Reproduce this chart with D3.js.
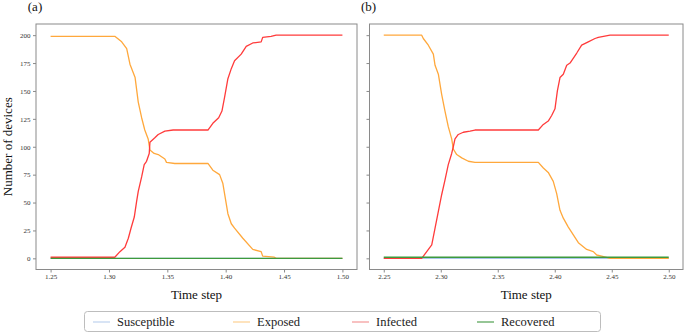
<!DOCTYPE html>
<html><head><meta charset="utf-8">
<script src="https://cdn.jsdelivr.net/npm/d3@7"></script>
<style>body{margin:0;background:#fff}svg{display:block}</style>
</head><body><svg id="c" width="685" height="333"></svg>
<script>
// ---- data ----
const seriesNames = ["Susceptible", "Exposed", "Infected", "Recovered"];
const xTicksA = [1.25, 1.30, 1.35, 1.40, 1.45, 1.50];
const xTicksB = [2.25, 2.30, 2.35, 2.40, 2.45, 2.50];
const yTicks = [0, 25, 50, 75, 100, 125, 150, 175, 200];
const panelLabels = ["(a)", "(b)"];

const susceptibleA = [[1.25,0],[1.50,0]];
const exposedA = [[1.250,199],[1.305,199],[1.3109,194],[1.3152,188],[1.318,174],[1.3224,162],[1.3251,140],[1.328,126],[1.3307,115],[1.3336,107],[1.3351,97],[1.3387,94],[1.3422,93],[1.3479,89],[1.3493,86],[1.3564,85],[1.3848,85],[1.389,79],[1.3948,75],[1.3976,67],[1.4019,40],[1.4048,31],[1.4076,27],[1.4147,18],[1.4232,8],[1.4304,6],[1.4317,2],[1.4417,1],[1.4432,0],[1.50,0]];
const infectedA = [[1.250,1],[1.305,1],[1.3094,6],[1.3137,10],[1.3166,18],[1.3189,27],[1.3217,37],[1.3237,51],[1.3251,60],[1.328,73],[1.3302,84],[1.3322,87],[1.3345,94],[1.3351,104],[1.3393,108],[1.3422,111],[1.3479,114],[1.355,115],[1.3848,115],[1.389,121],[1.394,126],[1.3968,132],[1.399,144],[1.4019,161],[1.4048,170],[1.4076,177],[1.4133,183],[1.4176,190],[1.4232,193],[1.4304,194],[1.4317,198],[1.4389,199],[1.4432,200],[1.50,200]];
const recoveredA = [[1.25,0],[1.50,0]];

const susceptibleB = [[2.25,0],[2.50,0]];
const exposedB = [[2.250,200],[2.2833,200],[2.2847,197],[2.2891,191],[2.2935,183],[2.295,173],[2.2979,165],[2.3008,147],[2.3037,132],[2.3066,118],[2.3096,107],[2.311,98],[2.314,93],[2.3184,90],[2.3242,87],[2.330,86],[2.3856,86],[2.390,81],[2.3943,77],[2.3987,69],[2.4017,58],[2.4046,43],[2.4075,36],[2.4119,28],[2.4207,14],[2.428,8],[2.4338,6],[2.4368,3],[2.4412,2],[2.4485,0],[2.50,0]];
const infectedB = [[2.250,0],[2.2833,0],[2.2877,6],[2.2921,12],[2.295,27],[2.2979,42],[2.3008,57],[2.3037,70],[2.3066,84],[2.3096,94],[2.311,100],[2.3125,107],[2.3154,111],[2.3198,113],[2.3257,114],[2.330,115],[2.3856,115],[2.390,120],[2.3943,123],[2.3973,128],[2.4002,134],[2.4023,150],[2.4046,162],[2.4075,165],[2.4105,173],[2.4134,175],[2.4193,184],[2.4236,191],[2.4294,194],[2.4353,197],[2.4382,198],[2.4485,200],[2.50,200]];
const recoveredB = [[2.25,1],[2.50,1]];

// ---- styles ----
const colors = {Susceptible:"#a9c6ea", Exposed:"#ffa83c", Infected:"#ff3b3b", Recovered:"#3d9a3d"};
const legendColors = {Susceptible:"#c3d6f0", Exposed:"#fdd49a", Infected:"#f4a0a0", Recovered:"#5ea85e"};
const serif = "'Liberation Serif','Times New Roman',serif";

const svg = d3.select("#c");
const yTop = 24, yBottom = 269.5;

const panels = [
  {x0:36, x1:357, xt:xTicksA, label:panelLabels[0], yLabels:true,
   data:{Susceptible:susceptibleA, Exposed:exposedA, Infected:infectedA, Recovered:recoveredA}},
  {x0:369.5, x1:683, xt:xTicksB, label:panelLabels[1], yLabels:false,
   data:{Susceptible:susceptibleB, Exposed:exposedB, Infected:infectedB, Recovered:recoveredB}}
];

const y = d3.scaleLinear().domain([-10, 210]).range([yBottom, yTop]);

panels.forEach(p => {
  const lo = p.xt[0], hi = p.xt[p.xt.length-1], m = (hi-lo)*0.05;
  const x = d3.scaleLinear().domain([lo-m, hi+m]).range([p.x0, p.x1]);
  const g = svg.append("g");
  const line = d3.line().x(d=>x(d[0])).y(d=>y(d[1]));
  seriesNames.forEach(n => {
    g.append("path").datum(p.data[n]).attr("d", line)
      .attr("fill","none").attr("stroke", colors[n]).attr("stroke-width",1.3)
      .attr("stroke-linejoin","round");
  });
  // frame
  g.append("rect").attr("x",p.x0).attr("y",yTop).attr("width",p.x1-p.x0).attr("height",yBottom-yTop)
    .attr("fill","none").attr("stroke","#8a8a8a").attr("stroke-width",1);
  // x axis
  const xa = g.append("g").attr("transform",`translate(0,${yBottom})`)
    .call(d3.axisBottom(x).tickValues(p.xt).tickFormat(d3.format(".2f")).tickSize(3).tickPadding(2));
  xa.select(".domain").remove();
  xa.selectAll("line").attr("stroke","#8a8a8a");
  xa.selectAll("text").attr("font-family",serif).attr("font-size",7).attr("fill","#333");
  // y axis
  const ya = g.append("g").attr("transform",`translate(${p.x0},0)`)
    .call(d3.axisLeft(y).tickValues(yTicks).tickSize(3).tickPadding(2.5)
      .tickFormat(p.yLabels ? d3.format("d") : ""));
  ya.select(".domain").remove();
  ya.selectAll("line").attr("stroke","#8a8a8a");
  ya.selectAll("text").attr("font-family",serif).attr("font-size",7).attr("fill","#333");
  // labels
  g.append("text").attr("x",(p.x0+p.x1)/2).attr("y",299).attr("text-anchor","middle")
    .attr("font-family",serif).attr("font-size",13).attr("fill","#111").text("Time step");
  g.append("text").attr("x",p.x0-1).attr("y",11).attr("text-anchor","middle")
    .attr("font-family",serif).attr("font-size",13).attr("fill","#111").text(p.label);
});

svg.append("text").attr("transform",`translate(12,${(yTop+yBottom)/2}) rotate(-90)`)
  .attr("text-anchor","middle").attr("font-family",serif).attr("font-size",13).attr("fill","#111")
  .text("Number of devices");

// legend
const lg = svg.append("g");
lg.append("rect").attr("x",84.5).attr("y",311.5).attr("width",516).attr("height",20).attr("rx",3)
  .attr("fill","#fff").attr("stroke","#bdbdbd").attr("stroke-width",1);
const legendX = [93, 233, 352, 477];
seriesNames.forEach((n,i) => {
  lg.append("line").attr("x1",legendX[i]).attr("x2",legendX[i]+17).attr("y1",322).attr("y2",322)
    .attr("stroke",legendColors[n]).attr("stroke-width",1.3);
  lg.append("text").attr("x",legendX[i]+24).attr("y",326).attr("font-family",serif)
    .attr("font-size",12.5).attr("fill","#222").text(n);
});
</script></body></html>
